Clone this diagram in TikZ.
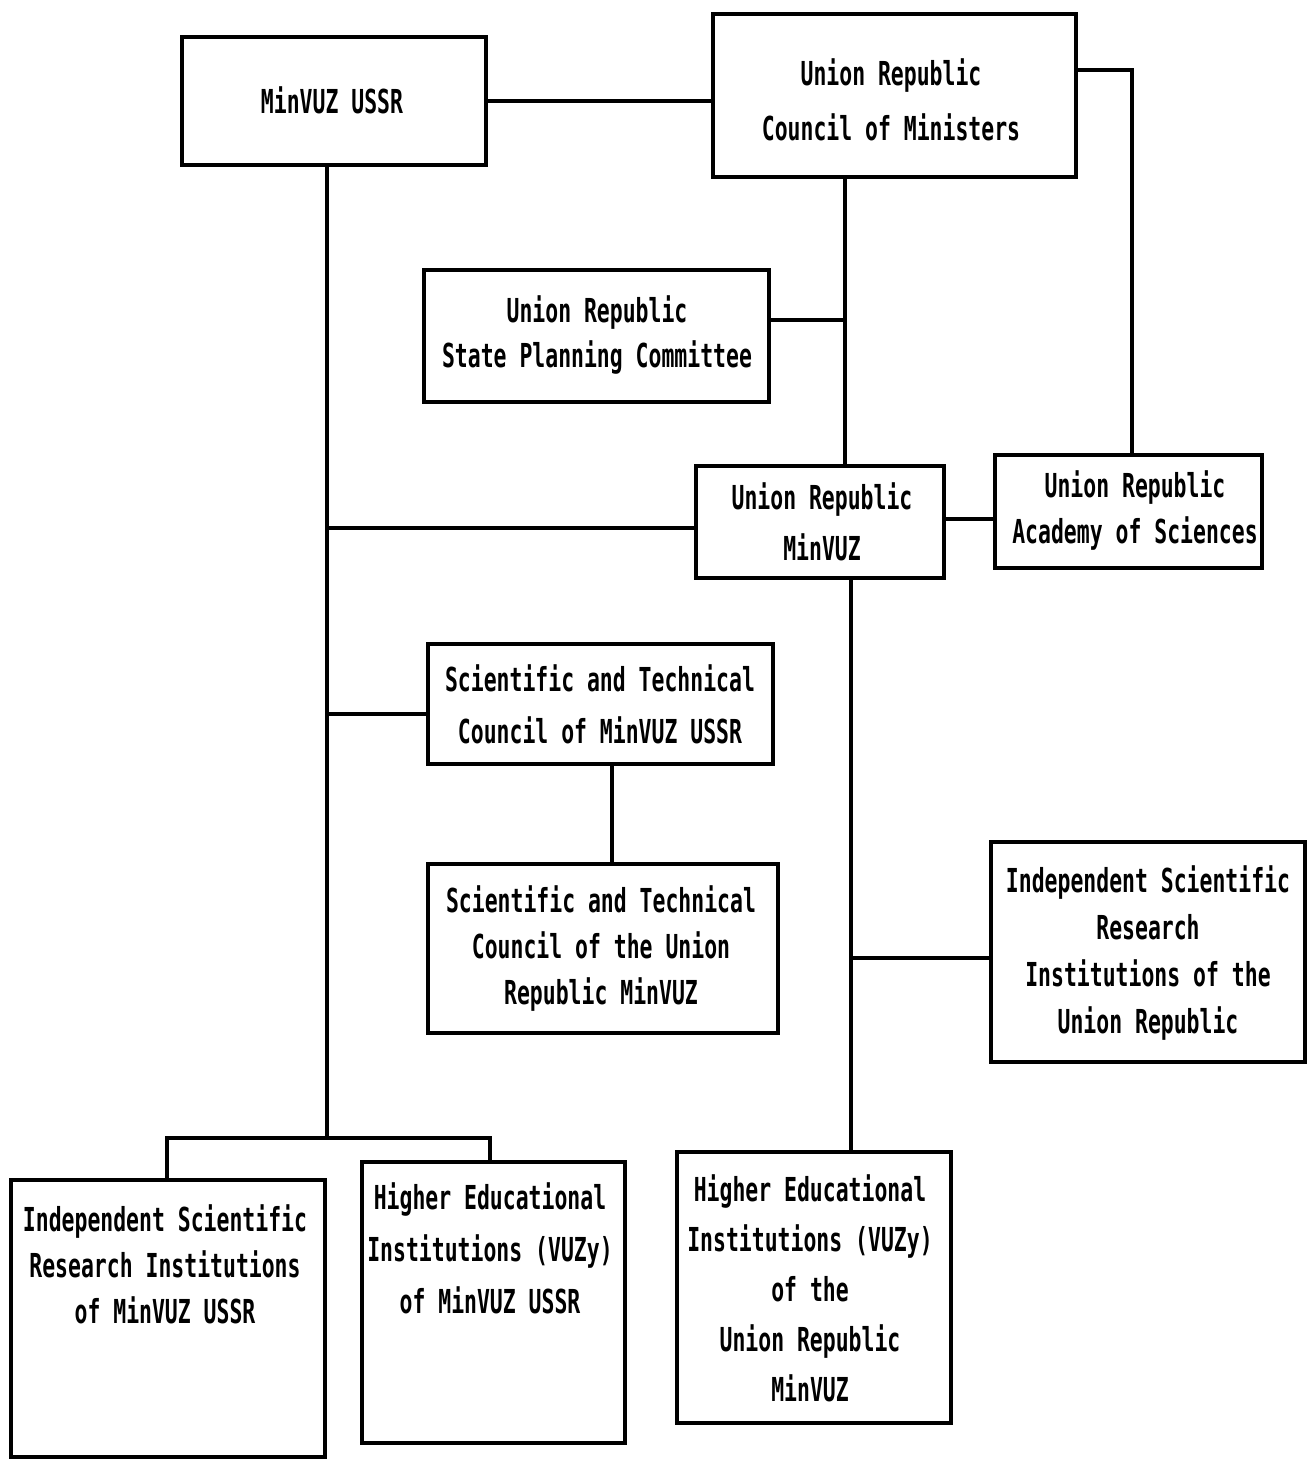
\documentclass[tikz,border=0pt]{standalone}
\usepackage{fontspec}
\newfontfamily\tw[FakeStretch=0.65]{DejaVu Sans Mono}
\begin{document}
\begin{tikzpicture}[x=1pt,y=-1pt,
  box/.style={draw, line width=4.5pt, inner sep=0pt, minimum width=#1},
  lbl/.style={align=center, inner sep=0pt, font=\tw\bfseries\fontsize{33}{#1}\selectfont},
  lbl/.default=48,
  conn/.style={line width=3.5pt}]
\useasboundingbox (0,0) rectangle (1309,1462);
% boxes
\node[box=304, minimum height=128] (mus) at (334,101) {};
\node[box=363, minimum height=163] (com) at (894.5,95.5) {};
\node[box=345, minimum height=132] (spc) at (596.5,336) {};
\node[box=248, minimum height=112] (urm) at (820,522) {};
\node[box=267, minimum height=113] (acad) at (1128.5,511.5) {};
\node[box=345, minimum height=120] (stc1) at (600.5,704) {};
\node[box=350, minimum height=169] (stc2) at (603,948.5) {};
\node[box=314, minimum height=220] (isriur) at (1148,952) {};
\node[box=314, minimum height=277] (isriu) at (168,1318.5) {};
\node[box=263, minimum height=281] (heiu) at (493.5,1302.5) {};
\node[box=274, minimum height=271] (heiur) at (814,1287.5) {};
% labels
\node[lbl] (t1) at (332,100) {MinVUZ USSR};
\node[lbl=55] (t2) at (891,100) {Union Republic\\Council of Ministers};
\node[lbl=45] (t3) at (597,335) {Union Republic\\State Planning Committee};
\node[lbl=51] (t4) at (822,522) {Union Republic\\MinVUZ};
\node[lbl=46] (t5) at (1135,510) {Union Republic\\Academy of Sciences};
\node[lbl=52] (t6) at (600,704) {Scientific and Technical\\Council of MinVUZ USSR};
\node[lbl=46] (t7) at (601,949) {Scientific and Technical\\Council of the Union\\Republic MinVUZ};
\node[lbl=47] (t8) at (1148,953) {Independent Scientific\\Research\\Institutions of the\\Union Republic};
\node[lbl=46] (t9) at (165,1264) {Independent Scientific\\Research Institutions\\of MinVUZ USSR};
\node[lbl=52] (t10) at (490,1248) {Higher Educational\\Institutions (VUZy)\\of MinVUZ USSR};
\node[lbl=50] (t11) at (810,1288) {Higher Educational\\Institutions (VUZy)\\of the\\Union Republic\\MinVUZ};
% helper coordinates
\coordinate (ca) at (1132,70);
\coordinate (cv) at (845,320);
\coordinate (lv) at (327,1138);
\coordinate (lurm) at (327,528);
\coordinate (lstc) at (327,714);
\coordinate (sv) at (612,0);
\coordinate (rv) at (851,958);
\coordinate (ua) at (0,519);
\coordinate (bl) at (167,1138);
\coordinate (br) at (490,1138);
% connectors
\draw[conn] (mus.east) -- (com.west |- mus.east);
\draw[conn] (com.east |- ca) -- (ca) -- (ca |- acad.north);
\draw[conn] (cv |- com.south) -- (cv |- urm.north);
\draw[conn] (spc.east |- cv) -- (cv);
\draw[conn] (lv |- mus.south) -- (lv);
\draw[conn] (lurm) -- (urm.west |- lurm);
\draw[conn] (lstc) -- (stc1.west |- lstc);
\draw[conn] (sv |- stc1.south) -- (sv |- stc2.north);
\draw[conn] (rv |- urm.south) -- (rv |- heiur.north);
\draw[conn] (urm.east |- ua) -- (acad.west |- ua);
\draw[conn] (rv) -- (isriur.west |- rv);
\draw[conn] (bl |- isriu.north) -- (bl) -- (br) -- (br |- heiu.north);
\end{tikzpicture}
\end{document}
